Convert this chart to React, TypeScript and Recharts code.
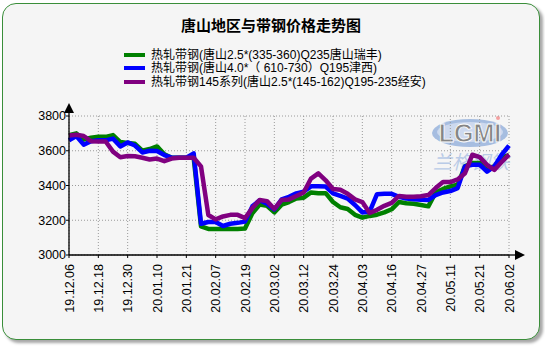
import React from "react";
import { LineChart, Line, XAxis, YAxis, CartesianGrid } from "recharts";

const title = "唐山地区与带钢价格走势图";

const dateTicks = [
  "19.12.06", "19.12.18", "19.12.30", "20.01.10", "20.01.21", "20.02.07",
  "20.02.19", "20.03.02", "20.03.12", "20.03.24", "20.04.03", "20.04.16",
  "20.04.27", "20.05.11", "20.05.21", "20.06.02",
];
const pointsPerTick = 4;

const yTicks = [3000, 3200, 3400, 3600, 3800];

const seriesNames = [
  "热轧带钢(唐山2.5*(335-360)Q235唐山瑞丰)",
  "热轧带钢(唐山4.0*（ 610-730）Q195津西)",
  "热轧带钢145系列(唐山2.5*(145-162)Q195-235经安)",
];
const seriesColors = ["#008000", "#0000ff", "#800080"];

const green = [
  3690, 3700, 3665, 3675, 3680, 3680, 3690, 3650, 3645, 3640, 3600, 3610, 3625, 3580, 3560, 3560,
  3560, 3560, 3165, 3150, 3150, 3150, 3150, 3150, 3152, 3240, 3290, 3283, 3245, 3290, 3305, 3325,
  3330, 3360, 3356, 3356, 3305, 3275, 3265, 3231, 3215, 3225, 3232, 3245, 3263, 3305, 3298, 3295,
  3288, 3280, 3360, 3380, 3395, 3404, 3510, 3529, 3530, 3500, 3510, 3560, 3575,
];
const blue = [
  3660, 3685, 3635, 3655, 3660, 3660, 3670, 3625, 3648, 3630, 3590, 3600, 3598, 3575, 3560, 3560,
  3560, 3585, 3180, 3190, 3190, 3167, 3180, 3185, 3192, 3280, 3315, 3295, 3262, 3320, 3335, 3355,
  3365, 3395, 3395, 3394, 3355, 3340, 3325, 3288, 3245, 3250, 3350, 3352, 3352, 3335, 3325, 3321,
  3318, 3317, 3345, 3360, 3368, 3385, 3510, 3519, 3520, 3480, 3510, 3577, 3630,
];
const purple = [
  3688, 3692, 3685, 3655, 3653, 3653, 3595, 3563, 3570, 3568, 3560, 3550, 3555, 3540, 3555, 3560,
  3560, 3560, 3510, 3230, 3205, 3222, 3231, 3231, 3212, 3270, 3317, 3310, 3265, 3317, 3320, 3340,
  3360, 3440, 3470, 3430, 3380, 3375, 3352, 3320, 3305, 3242, 3260, 3283, 3300, 3340, 3335, 3335,
  3338, 3345, 3385, 3420, 3420, 3435, 3471, 3577, 3563, 3519, 3490, 3535, 3578,
];

const seriesValues = [green, blue, purple];

const data = green.map((_, i) => ({
  idx: i,
  s0: green[i],
  s1: blue[i],
  s2: purple[i],
}));
const xTickIdx = dateTicks.map((_, k) => k * pointsPerTick);
const lastIdx = green.length - 1;

const FONT = '"Liberation Sans", Arial, "Noto Sans CJK SC", sans-serif';

function XTick(props: any) {
  const { x, y, payload } = props;
  const label = dateTicks[Math.round(payload.value / pointsPerTick)];
  return (
    <text
      x={x}
      y={y}
      transform={`rotate(-90 ${x} ${y})`}
      textAnchor="end"
      dy="0.36em"
      fontSize={12.5}
      fontFamily={FONT}
      fill="#000"
    >
      {label}
    </text>
  );
}

function Watermark() {
  return (
    <svg width={545} height={346} style={{ position: "absolute", left: 0, top: 0 }}>
      <ellipse cx={470} cy={133} rx={38} ry={14} fill="#a6bde0" />
      <ellipse cx={470} cy={132} rx={33} ry={10} fill="#cdd9ee" />
      <text
        x={470}
        y={142}
        textAnchor="middle"
        fontSize={25}
        fontWeight="bold"
        fontFamily={FONT}
        fill="#858585"
        stroke="#ffffff"
        strokeWidth={0.8}
      >
        LGMI
      </text>
      <circle cx={498} cy={118} r={2} fill="#f4a0a0" />
      <text
        x={471}
        y={169}
        textAnchor="middle"
        fontSize={19}
        fontStyle="italic"
        fontFamily='"Noto Sans CJK SC", sans-serif'
        fill="#b9cbe7"
      >
        兰格钢铁
      </text>
    </svg>
  );
}

export default function App() {
  return (
    <div
      style={{
        position: "fixed",
        left: 0,
        top: 0,
        width: 545,
        height: 346,
        background: "#ffffff",
        fontFamily: FONT,
      }}
    >
      <div
        style={{
          position: "absolute",
          left: 2,
          top: 3,
          width: 536,
          height: 335,
          border: "1px solid #3a8e3a",
          borderRadius: 14,
          background: "#f5f5f5",
          boxShadow: "3px 3px 3px rgba(0,0,0,0.35)",
        }}
      />
      <div
        style={{
          position: "absolute",
          left: 2,
          width: 538,
          top: 17,
          textAlign: "center",
          fontSize: 15,
          lineHeight: "16px",
          fontWeight: "bold",
          fontFamily: '"Noto Sans CJK SC", sans-serif',
          color: "#000",
        }}
      >
        {title}
      </div>
      {seriesNames.map((name, k) => {
        const cy = 54.7 + k * 13.7;
        return (
          <React.Fragment key={name}>
            <div
              style={{
                position: "absolute",
                left: 124,
                top: cy - 2,
                width: 21,
                height: 4,
                background: seriesColors[k],
              }}
            />
            <div
              style={{
                position: "absolute",
                left: 151,
                top: cy - 7,
                fontSize: 12,
                lineHeight: "14px",
                whiteSpace: "nowrap",
                color: "#000",
              }}
            >
              {name}
            </div>
          </React.Fragment>
        );
      })}
      <Watermark />
      <div style={{ position: "absolute", left: 0, top: 0 }}>
        <LineChart
          width={545}
          height={346}
          data={data}
          margin={{ top: 116, right: 36, bottom: 31, left: 0 }}
        >
          <defs>
            <marker
              id="arrX"
              markerUnits="userSpaceOnUse"
              markerWidth={18}
              markerHeight={12}
              refX={0}
              refY={6}
              orient="auto"
            >
              <path d="M0,6 L7,6" stroke="#000" strokeWidth={1.3} />
              <path d="M6,1 L16,6 L6,11 Z" fill="#000" />
            </marker>
            <marker
              id="arrY"
              markerUnits="userSpaceOnUse"
              markerWidth={16}
              markerHeight={12}
              refX={0}
              refY={6}
              orient="auto-start-reverse"
            >
              <path d="M0,6 L4,6" stroke="#000" strokeWidth={1.3} />
              <path d="M3,1 L13,6 L3,11 Z" fill="#000" />
            </marker>
          </defs>
          <CartesianGrid stroke="#9a9a9a" strokeDasharray="1 2" />
          <XAxis
            dataKey="idx"
            type="number"
            domain={[0, lastIdx]}
            ticks={xTickIdx}
            interval={0}
            height={60}
            tickSize={3}
            tickMargin={6}
            tick={XTick}
            axisLine={{ stroke: "#000", strokeWidth: 1.3, markerEnd: "url(#arrX)" }}
            tickLine={{ stroke: "#000" }}
          />
          <YAxis
            domain={[3000, 3800]}
            ticks={yTicks}
            interval={0}
            width={69}
            tickSize={3}
            tickMargin={0}
            tick={{ fill: "#000", fontSize: 12.5, fontFamily: FONT }}
            axisLine={{ stroke: "#000", strokeWidth: 1.3, markerStart: "url(#arrY)" }}
            tickLine={{ stroke: "#000" }}
          />
          {seriesValues.map((_, k) => (
            <Line
              key={k}
              type="linear"
              dataKey={`s${k}`}
              name={seriesNames[k]}
              stroke={seriesColors[k]}
              strokeWidth={4.5}
              strokeLinejoin="round"
              dot={false}
              activeDot={false}
              isAnimationActive={false}
            />
          ))}
        </LineChart>
      </div>
    </div>
  );
}
